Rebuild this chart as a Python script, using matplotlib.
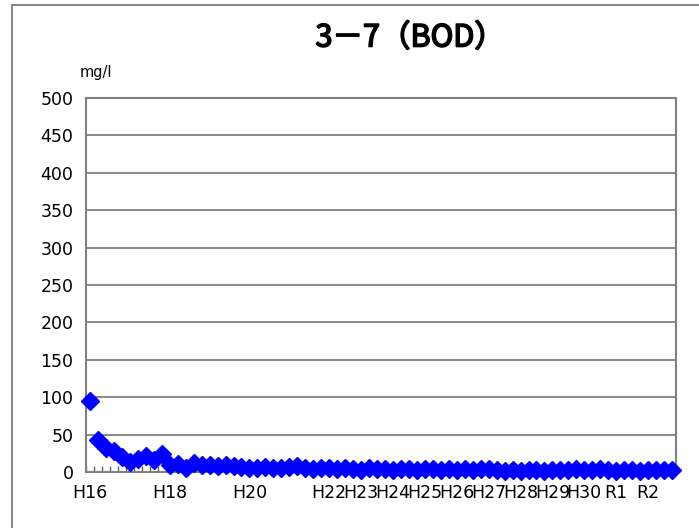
import numpy as np
from matplotlib import pyplot as plt
from matplotlib.patches import Rectangle
import matplotlib.patheffects as pe

plt.rcParams['font.family'] = ['Noto Sans CJK JP', 'DejaVu Sans']

# BOD, one value per sampling (category axis)
bod = [95, 43, 32, 28, 20, 13, 18, 22, 16, 24,
       9, 11, 5, 12, 9, 10, 8, 10, 8, 7,
       6, 5, 7, 6, 5, 7, 8, 6, 4, 5,
       5, 4, 5, 4, 3, 5, 4, 4, 3, 4,
       4, 3, 4, 4, 3, 4, 3, 4, 3, 4,
       4, 3, 2, 3, 2, 3, 3, 2, 3, 3,
       3, 4, 3, 3, 4, 3, 2, 3, 3, 2,
       3, 3, 3, 3]
year_labels = ['H16', 'H18', 'H20', 'H22', 'H23', 'H24', 'H25', 'H26',
               'H27', 'H28', 'H29', 'H30', 'R1', 'R2']
label_pos = [0, 10, 20, 30, 34, 38, 42, 46, 50, 54, 58, 62, 66, 70]

fig = plt.figure(figsize=(6.99, 5.28), dpi=100)
ax = fig.add_axes([86/699, 56/528, 590/699, 374/528])

# outer chart frame
fig.patches.append(Rectangle((12/699, -0.02), 1.0, 1 - 5/528 + 0.02,
                             transform=fig.transFigure, fill=False,
                             edgecolor='#888888', linewidth=1.5))

x = np.arange(len(bod))
ax.plot(x, bod, linestyle='none', marker='D', markersize=9.5,
        color='#0000ff', markeredgecolor='#0000ff', zorder=3, clip_on=False)

ax.set_xlim(-0.5, len(bod) - 0.5)
ax.set_ylim(0, 500)
ax.set_yticks(np.arange(0, 501, 50))
ax.yaxis.grid(True, color='#808080', linewidth=1.3)
ax.set_axisbelow(True)
ax.tick_params(axis='y', length=0, labelsize=12.5, pad=9)

ax.set_xticks(label_pos)
ax.set_xticklabels(year_labels)
ax.set_xticks(np.arange(-0.5, len(bod), 1), minor=True)
ax.tick_params(axis='x', which='major', length=0, labelsize=12.5, pad=9)
ax.tick_params(axis='x', which='minor', direction='in', length=4,
               color='#606060', width=1)
for lab in ax.get_xticklabels() + ax.get_yticklabels():
    lab.set_family(['DejaVu Sans'])

for s in ax.spines.values():
    s.set_color('#808080')
    s.set_linewidth(1.5)

title = fig.text(410/699, 1 - 38/528, '3－7（BOD）', fontsize=22,
                 fontweight='normal', ha='center', va='center',
                 family=['Noto Sans CJK JP', 'DejaVu Sans'])
title.set_path_effects([pe.withStroke(linewidth=1.2, foreground='black')])
fig.text(80/699, 1 - 73/528, 'mg/l', fontsize=10.5, ha='left', va='center',
         family=['DejaVu Sans'])

fig.savefig('out.png', dpi=100)
